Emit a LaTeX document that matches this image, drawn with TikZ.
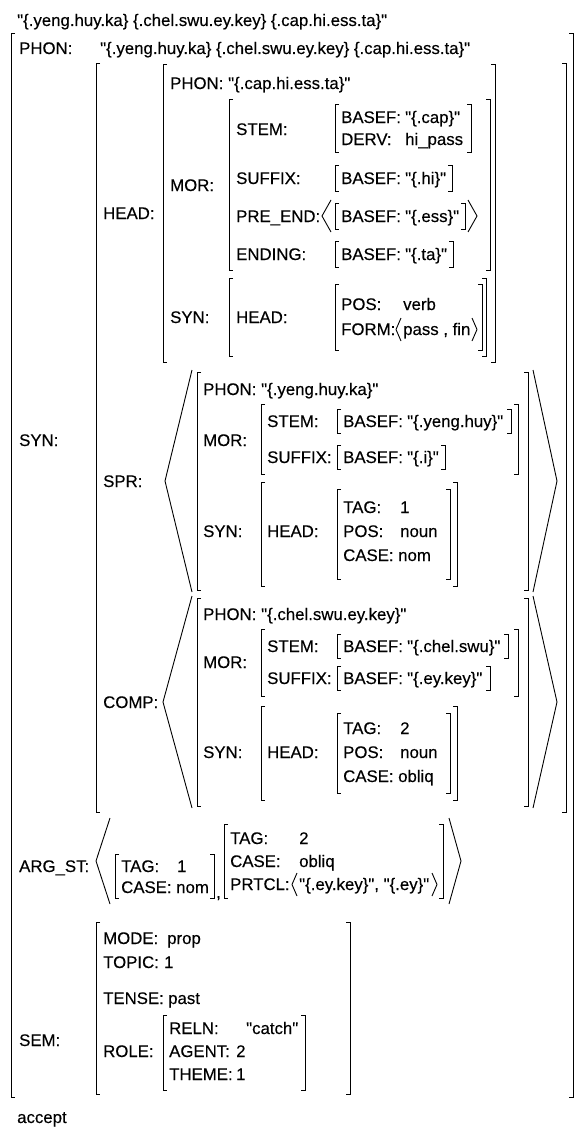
\documentclass[tikz,border=0pt]{standalone}
\usepackage{fontspec}
\newfontfamily\avmf[FakeBold=0.25]{Liberation Sans}
\tikzset{
  txt/.style={anchor=base west, inner sep=0pt, font={\avmf\fontsize{16.8}{20}\selectfont}},
  br/.style={line width=0.9pt, line join=miter}
}
\newcommand\avmT[4]{\node[txt] (#1) at (#2,{#3+6}) {#4};}
\newcommand\avmLB[3]{\draw[br] ({#1+4},#2) -- (#1,#2) -- (#1,#3) -- ({#1+4},#3);}
\newcommand\avmRB[3]{\draw[br] ({#1-4},#2) -- (#1,#2) -- (#1,#3) -- ({#1-4},#3);}
\newcommand\avmAng[4]{\draw[br] (#2,#3) -- (#1,{(#3+#4)/2}) -- (#2,#4);}
\begin{document}
\begin{tikzpicture}[x=1pt,y=-1pt]
\fill[white] (0,0) rectangle (583,1132);
\useasboundingbox (0,0) rectangle (583,1132);
% top string
\avmT{top}{17}{20}{"\{.yeng.huy.ka\} \{.chel.swu.ey.key\} \{.cap.hi.ess.ta\}"}
% outer
\avmLB{11}{33}{1097}\avmRB{573}{33}{1097}
\avmT{phon}{19}{48}{PHON:}
\avmT{phonv}{100}{48}{"\{.yeng.huy.ka\} \{.chel.swu.ey.key\} \{.cap.hi.ess.ta\}"}
% SYN
\avmT{syn}{19}{440}{SYN:}
\avmLB{96}{63}{812}\avmRB{566}{63}{812}
% HEAD
\avmT{head}{103}{213}{HEAD:}
\avmLB{163}{64}{362}\avmRB{495}{64}{362}
\avmT{hphon}{170}{83}{PHON:}\avmT{hphonv}{228}{83}{"\{.cap.hi.ess.ta\}"}
\avmT{hmor}{170}{185}{MOR:}
\avmLB{229}{99}{270}\avmRB{490}{99}{270}
\avmT{hstem}{236}{129}{STEM:}
\avmLB{335}{104}{152}\avmRB{471}{104}{152}
\avmT{hb1}{341}{117}{BASEF:}\avmT{hb1v}{405}{117}{"\{.cap\}"}
\avmT{hderv}{341}{139}{DERV:}\avmT{hdervv}{405}{139}{hi\_pass}
\avmT{hsuf}{236}{178}{SUFFIX:}
\avmLB{335}{165}{191}\avmRB{452}{165}{191}
\avmT{hb2}{341}{178}{BASEF:}\avmT{hb2v}{405}{178}{"\{.hi\}"}
\avmT{hpre}{236}{216}{PRE\_END:}
\avmAng{322}{331}{200}{232}
\avmLB{335}{203}{229}\avmRB{465}{203}{229}
\avmAng{477}{468}{200}{232}
\avmT{hb3}{341}{216}{BASEF:}\avmT{hb3v}{405}{216}{"\{.ess\}"}
\avmT{hend}{236}{254}{ENDING:}
\avmLB{335}{241}{267}\avmRB{453}{241}{267}
\avmT{hb4}{341}{254}{BASEF:}\avmT{hb4v}{405}{254}{"\{.ta\}"}
\avmT{hsyn}{170}{317}{SYN:}
\avmLB{229}{278}{356}\avmRB{486}{278}{356}
\avmT{hsh}{236}{317}{HEAD:}
\avmLB{335}{284}{350}\avmRB{482}{284}{350}
\avmT{hpos}{341}{304}{POS:}\avmT{hposv}{403}{304}{verb}
\avmT{hform}{341}{329}{FORM:}
\avmAng{396}{401}{318}{341}
\avmT{hformv}{403}{329}{pass , fin}
\avmAng{477}{472}{318}{341}
% SPR
\avmT{spr}{103}{481}{SPR:}
\avmAng{165}{192}{370}{592}
\avmLB{197}{372}{590}\avmRB{528}{372}{590}
\avmAng{557}{533}{370}{592}
\avmT{sphon}{203}{389}{PHON:}\avmT{sphonv}{261}{389}{"\{.yeng.huy.ka\}"}
\avmT{smor}{203}{440}{MOR:}
\avmLB{261}{404}{474}\avmRB{518}{404}{474}
\avmT{sstem}{267}{421}{STEM:}
\avmLB{337}{409}{433}\avmRB{511}{409}{433}
\avmT{sb1}{343}{421}{BASEF:}\avmT{sb1v}{407}{421}{"\{.yeng.huy\}"}
\avmT{ssuf}{267}{457}{SUFFIX:}
\avmLB{337}{445}{469}\avmRB{445}{445}{469}
\avmT{sb2}{343}{457}{BASEF:}\avmT{sb2v}{407}{457}{"\{.i\}"}
\avmT{ssyn}{203}{531}{SYN:}
\avmLB{261}{482}{586}\avmRB{457}{482}{586}
\avmT{ssh}{267}{531}{HEAD:}
\avmLB{337}{489}{579}\avmRB{450}{489}{579}
\avmT{stag}{343}{507}{TAG:}\avmT{stagv}{400}{507}{1}
\avmT{spos}{343}{531}{POS:}\avmT{sposv}{400}{531}{noun}
\avmT{scase}{343}{555}{CASE:}\avmT{scasev}{398}{555}{nom}
% COMP
\avmT{comp}{103}{702}{COMP:}
\avmAng{163}{192}{596}{808}
\avmLB{197}{598}{806}\avmRB{528}{598}{806}
\avmAng{557}{533}{596}{808}
\avmT{cphon}{203}{614}{PHON:}\avmT{cphonv}{261}{614}{"\{.chel.swu.ey.key\}"}
\avmT{cmor}{203}{662}{MOR:}
\avmLB{261}{629}{696}\avmRB{518}{629}{696}
\avmT{cstem}{267}{646}{STEM:}
\avmLB{337}{634}{658}\avmRB{508}{634}{658}
\avmT{cb1}{343}{646}{BASEF:}\avmT{cb1v}{407}{646}{"\{.chel.swu\}"}
\avmT{csuf}{267}{678}{SUFFIX:}
\avmLB{337}{666}{690}\avmRB{490}{666}{690}
\avmT{cb2}{343}{678}{BASEF:}\avmT{cb2v}{407}{678}{"\{.ey.key\}"}
\avmT{csyn}{203}{752}{SYN:}
\avmLB{261}{706}{800}\avmRB{457}{706}{800}
\avmT{csh}{267}{752}{HEAD:}
\avmLB{337}{713}{793}\avmRB{450}{713}{793}
\avmT{ctag}{343}{728}{TAG:}\avmT{ctagv}{400}{728}{2}
\avmT{cpos}{343}{752}{POS:}\avmT{cposv}{400}{752}{noun}
\avmT{ccase}{343}{776}{CASE:}\avmT{ccasev}{398}{776}{obliq}
% ARG_ST
\avmT{arg}{19}{866}{ARG\_ST:}
\avmAng{96}{110}{818}{904}
\avmLB{115}{854}{898}\avmRB{214}{854}{898}
\avmT{atag1}{121}{866}{TAG:}\avmT{atag1v}{177}{866}{1}
\avmT{acase1}{121}{887}{CASE:}\avmT{acase1v}{176}{887}{nom}
\avmT{acomma}{216}{892}{,}
\avmLB{224}{824}{898}\avmRB{443}{824}{898}
\avmT{atag2}{230}{838}{TAG:}\avmT{atag2v}{299}{838}{2}
\avmT{acase2}{230}{861}{CASE:}\avmT{acase2v}{299}{861}{obliq}
\avmT{aprt}{230}{884}{PRTCL:}
\avmAng{292}{297}{873}{896}
\avmT{aprtv}{299}{884}{"\{.ey.key\}", "\{.ey\}"}
\avmAng{437}{432}{873}{896}
\avmAng{461}{449}{818}{904}
% SEM
\avmT{sem}{19}{1040}{SEM:}
\avmLB{96}{922}{1094}\avmRB{350}{922}{1094}
\avmT{mode}{103}{938}{MODE:}\avmT{modev}{167}{938}{prop}
\avmT{topic}{103}{962}{TOPIC:}\avmT{topicv}{164}{962}{1}
\avmT{tense}{103}{998}{TENSE:}\avmT{tensev}{168}{998}{past}
\avmT{role}{103}{1051}{ROLE:}
\avmLB{163}{1015}{1090}\avmRB{305}{1015}{1090}
\avmT{reln}{169}{1028}{RELN:}\avmT{relnv}{246}{1028}{"catch"}
\avmT{agent}{169}{1051}{AGENT:}\avmT{agentv}{236}{1051}{2}
\avmT{theme}{169}{1074}{THEME:}\avmT{themev}{236}{1074}{1}
\avmT{accept}{17}{1117}{accept}
\end{tikzpicture}
\end{document}
